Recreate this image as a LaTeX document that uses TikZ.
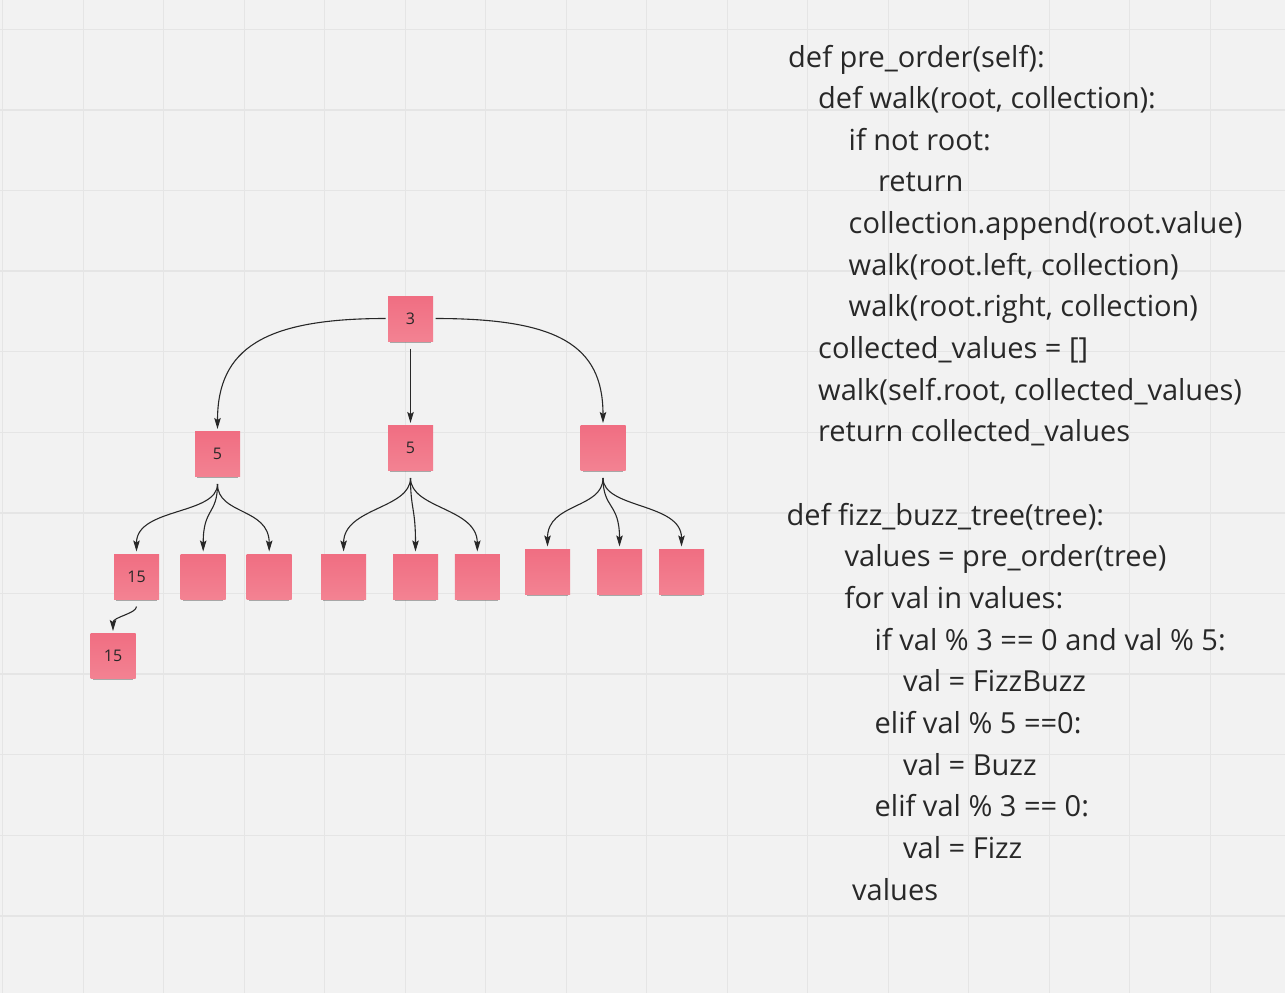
\documentclass[tikz,border=0pt]{standalone}
\usepackage{fontspec}
\setmainfont{Open Sans}
\usetikzlibrary{arrows.meta,shadows}
\definecolor{board}{RGB}{242,242,242}
\definecolor{gridc}{RGB}{229,229,229}
\definecolor{notepink}{RGB}{240,110,130}
\definecolor{notelight}{RGB}{243,130,146}
\definecolor{ink}{RGB}{40,40,40}
\begin{document}
\begin{tikzpicture}[x=1pt,y=-1pt,
    gridline/.style={gridc,line width=1.3pt},
    note/.style={minimum width=45pt,minimum height=45pt,inner sep=0pt,outer sep=2.5pt,
      top color=notepink,bottom color=notelight,
      drop shadow={shadow xshift=0pt,shadow yshift=-4.5pt,shadow scale=0.9,opacity=0.45,fill=black!70},
      text=ink,font=\fontsize{16}{19}\selectfont},
    link/.style={ink,line width=1.1pt,-{Stealth[length=11pt,width=6.5pt,inset=2pt]}},
    code/.style={anchor=base west,inner sep=0pt,text=ink,font=\fontsize{29}{34}\selectfont}]
        \useasboundingbox (0,0) rectangle (1285,993);
        \fill [board] (0,0) rectangle (1285,993);
        \foreach \gx in {0,...,15}
            \draw [gridline] ({2.7+80.5*\gx},0) -- ({2.7+80.5*\gx},993);
        \foreach \gy in {0,...,11}
            \draw [gridline] (0,{29.3+80.6*\gy}) -- (1285,{29.3+80.6*\gy});
        % tree of sticky notes
        \node [note] (r) at (410.5,318.5) {3};
        \node [note] (a) at (217.5,454) {5};
        \node [note] (b) at (410.5,448) {5};
        \node [note] (c) at (603,448) {};
        \node [note] (a1) at (136.5,576.5) {15};
        \node [note] (a2) at (203.2,576.5) {};
        \node [note] (a3) at (269.2,576.5) {};
        \node [note] (b1) at (343.6,576.5) {};
        \node [note] (b2) at (415.5,576.5) {};
        \node [note] (b3) at (477.3,576.5) {};
        \node [note] (c1) at (547.5,571.5) {};
        \node [note] (c2) at (619.5,571.5) {};
        \node [note] (c3) at (681.5,571.5) {};
        \node [note] (a11) at (113,656) {15};
        \draw [link] (r.west) .. controls +(-122,0) and +(0,-80) .. (a.north);
        \draw [link,shorten <=5pt] (r.south) -- (b.north);
        \draw [link] (r.east) .. controls +(122,0) and +(0,-78) .. (c.north);
        \draw [link,shorten <=5pt] (a.south) .. controls +(0,36) and +(0,-44) .. (a1.north);
        \draw [link,shorten <=5pt] (a.south) .. controls +(0,36) and +(0,-44) .. (a2.north);
        \draw [link,shorten <=5pt] (a.south) .. controls +(0,36) and +(0,-44) .. (a3.north);
        \draw [link,shorten <=5pt] (b.south) .. controls +(0,36) and +(0,-44) .. (b1.north);
        \draw [link,shorten <=5pt] (b.south) .. controls +(0,36) and +(0,-44) .. (b2.north);
        \draw [link,shorten <=5pt] (b.south) .. controls +(0,36) and +(0,-44) .. (b3.north);
        \draw [link,shorten <=5pt] (c.south) .. controls +(0,36) and +(0,-44) .. (c1.north);
        \draw [link,shorten <=5pt] (c.south) .. controls +(0,36) and +(0,-44) .. (c2.north);
        \draw [link,shorten <=5pt] (c.south) .. controls +(0,36) and +(0,-44) .. (c3.north);
        \draw [link,shorten <=5pt] (a1.south) .. controls +(0,12) and +(0,-14) .. (a11.north);
        % code
        \node [code] (p1) at (788,67) {def pre\_order(self):};
        \node [code] (p2) at (818,108.65) {def walk(root, collection):};
        \node [code] (p3) at (848.5,150.3) {if not root:};
        \node [code] (p4) at (878,191.95) {return};
        \node [code] (p5) at (848.5,233.6) {collection.append(root.value)};
        \node [code] (p6) at (848.5,275.25) {walk(root.left, collection)};
        \node [code] (p7) at (848.5,316.9) {walk(root.right, collection)};
        \node [code] (p8) at (818,358.55) {collected\_values = []};
        \node [code] (p9) at (818,400.2) {walk(self.root, collected\_values)};
        \node [code] (p10) at (818,441.85) {return collected\_values};
        \node [code] (f1) at (786.5,525.15) {def fizz\_buzz\_tree(tree):};
        \node [code] (f2) at (844.5,566.8) {values = pre\_order(tree)};
        \node [code] (f3) at (844.5,608.45) {for val in values:};
        \node [code] (f4) at (874.5,650.1) {if val \% 3 == 0 and val \% 5:};
        \node [code] (f5) at (903,691.75) {val = FizzBuzz};
        \node [code] (f6) at (874.5,733.4) {elif val \% 5 ==0:};
        \node [code] (f7) at (903,775.05) {val = Buzz};
        \node [code] (f8) at (874.5,816.7) {elif val \% 3 == 0:};
        \node [code] (f9) at (903,858.35) {val = Fizz};
        \node [code] (f10) at (852,900) {values};
\end{tikzpicture}
\end{document}
